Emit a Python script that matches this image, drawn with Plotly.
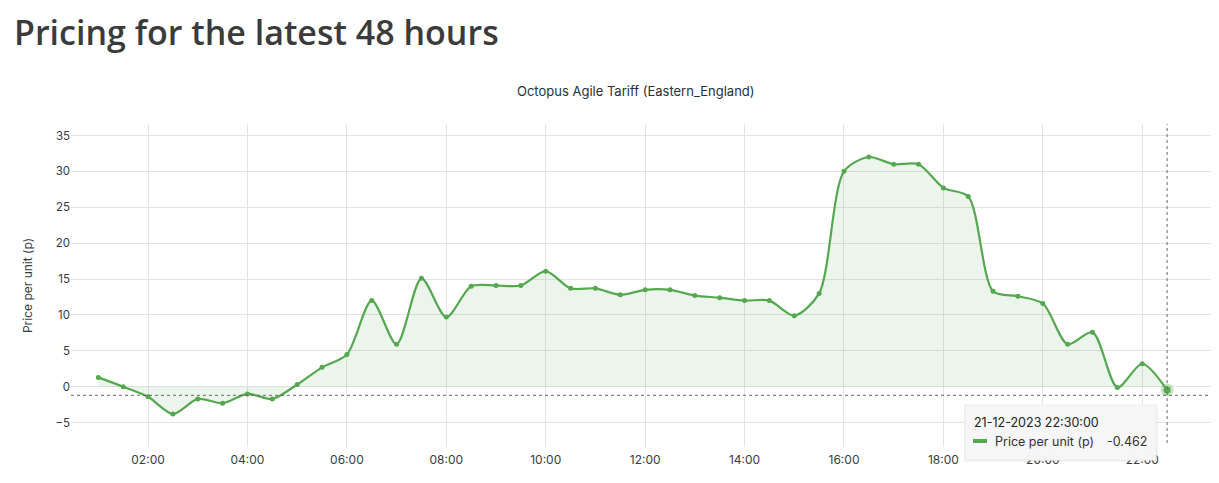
import plotly.graph_objects as go
import pandas as pd

# half-hourly slots on 21-12-2023, 01:00 .. 22:30
times = pd.date_range("2023-12-21 01:00", "2023-12-21 22:30", freq="30min")
prices = [1.3, 0.0, -1.4, -3.8, -1.7, -2.3, -1.0, -1.7, 0.3, 2.7,
          4.5, 12.0, 5.9, 15.1, 9.7, 14.0, 14.1, 14.1, 16.1, 13.7,
          13.7, 12.8, 13.5, 13.5, 12.7, 12.4, 12.0, 12.0, 9.9, 13.0,
          30.0, 32.0, 31.0, 31.0, 27.7, 26.5, 13.3, 12.6, 11.6, 5.9,
          7.6, -0.1, 3.2, -0.462]
tick_vals = pd.date_range("2023-12-21 02:00", "2023-12-21 22:00", freq="2h")
y_ticks = [-5, 0, 5, 10, 15, 20, 25, 30, 35]

green = "#55a84f"
text_col = "#373d3f"
W, H = 1203, 467
# plot area in page pixels (page has an 8px body margin)
PX0, PX1, PY0, PY1 = 71, 1211, 124, 447


def px(x):
    return (x - PX0) / (PX1 - PX0)


def py(y):
    return (PY1 - y) / (PY1 - PY0)


fig = go.Figure()
fig.add_trace(go.Scatter(x=times, y=prices, mode="lines+markers",
                         line=dict(color=green, width=2.2, shape="spline", smoothing=0.8),
                         marker=dict(size=5, color=green),
                         fill="tozeroy", fillcolor="rgba(85,168,79,0.11)",
                         name="Price per unit (p)", hoverinfo="skip"))
# hovered point highlight
fig.add_trace(go.Scatter(x=[times[-1]], y=[prices[-1]], mode="markers",
                         marker=dict(size=13, color="rgba(85,168,79,0.35)",
                                     line=dict(width=0)),
                         hoverinfo="skip"))
fig.add_trace(go.Scatter(x=[times[-1]], y=[prices[-1]], mode="markers",
                         marker=dict(size=7, color=green), hoverinfo="skip"))

# crosshair lines
fig.add_hline(y=-1.2, line=dict(color="#666", width=1, dash="dot"))
fig.add_shape(type="line", xref="x", yref="paper", x0=times[-1], x1=times[-1],
              y0=py(443), y1=1.0, line=dict(color="#666", width=1, dash="dot"))

# tooltip box (soft shadow + box)
fig.add_shape(type="rect", xref="paper", yref="paper",
              x0=px(964), x1=px(1158), y0=py(462), y1=py(405),
              fillcolor="rgba(0,0,0,0.05)", line=dict(width=0), layer="above")
fig.add_shape(type="rect", xref="paper", yref="paper",
              x0=px(965), x1=px(1156), y0=py(460), y1=py(405),
              fillcolor="rgba(246,246,246,0.98)", line=dict(color="#ececec", width=1),
              layer="above")
fig.add_shape(type="line", xref="paper", yref="paper",
              x0=px(973), x1=px(987), y0=py(441), y1=py(441),
              line=dict(color=green, width=4), layer="above")
fig.add_annotation(x=px(972), y=py(422), xref="paper", yref="paper",
                   text="21-12-2023 22:30:00", showarrow=False,
                   xanchor="left", yanchor="middle",
                   font=dict(family="Inter", size=12.5, color="#222"))
fig.add_annotation(x=px(993), y=py(441), xref="paper", yref="paper",
                   text="Price per unit (p)", showarrow=False,
                   xanchor="left", yanchor="middle",
                   font=dict(family="Inter", size=12.5, color="#333"))
fig.add_annotation(x=px(1149), y=py(441), xref="paper", yref="paper",
                   text="-0.462", showarrow=False,
                   xanchor="right", yanchor="middle",
                   font=dict(family="Inter", size=12.5, color="#333"))

# chart title
fig.add_annotation(x=px(636), y=py(91), xref="paper", yref="paper",
                   text="Octopus Agile Tariff (Eastern_England)", showarrow=False,
                   xanchor="center", yanchor="middle",
                   font=dict(family="Inter", size=13, color="#263238"))

fig.update_layout(
    width=W, height=H,
    margin=dict(l=PX0 - 8, r=8 + W - PX1, t=PY0 - 8, b=8 + H - PY1),
    paper_bgcolor="white", plot_bgcolor="white",
    showlegend=False,
    font=dict(family="Inter", size=11, color=text_col),
    title=dict(text="Pricing for the latest 48 hours", xref="container", yref="container",
               x=6 / W, y=1 - 25 / H, xanchor="left", yanchor="middle",
               font=dict(family="Open Sans", size=34, color="#3b3b3b", weight=600)),
)
fig.update_xaxes(range=[pd.Timestamp("2023-12-21 00:27"), pd.Timestamp("2023-12-21 23:23")],
                 tickvals=tick_vals, tickformat="%H:%M",
                 showgrid=True, gridcolor="#e3e3e3", gridwidth=1,
                 showline=False, zeroline=False, ticks="", ticklabelstandoff=4,
                 tickfont=dict(size=12))
fig.update_yaxes(range=[-8.4, 36.6], tickvals=y_ticks,
                 showgrid=True, gridcolor="#e3e3e3", gridwidth=1,
                 zeroline=True, zerolinecolor="#e3e3e3", zerolinewidth=1,
                 showline=False, ticks="", tickfont=dict(size=11.5),
                 title=dict(text="Price per unit (p)", font=dict(size=12), standoff=20))

fig.write_html("out.html")
